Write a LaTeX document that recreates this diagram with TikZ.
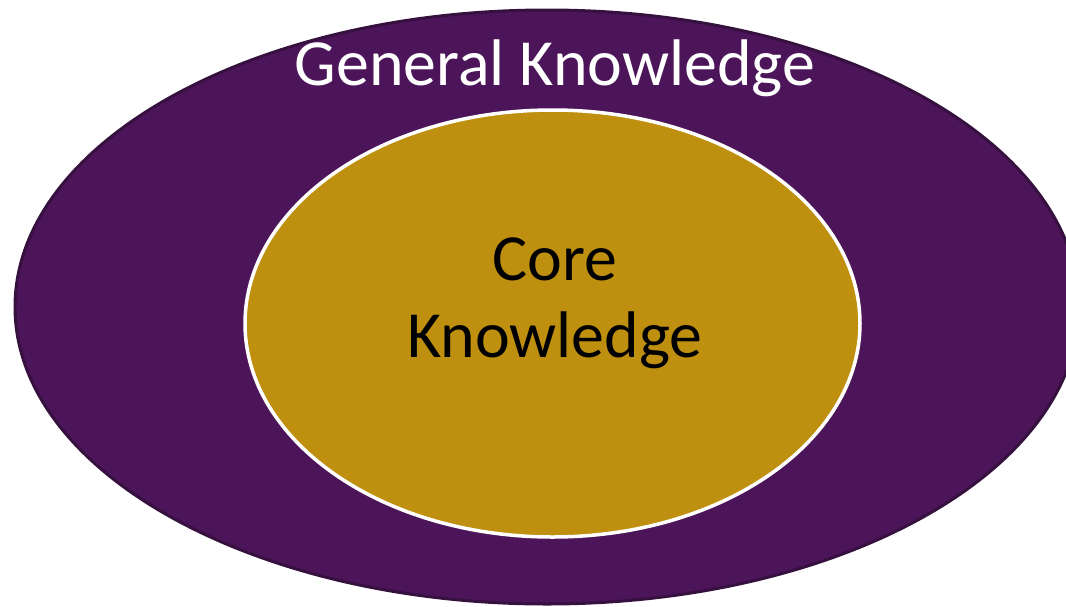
\documentclass[tikz,border=0pt]{standalone}
\usepackage{fontspec}
\setmainfont{Carlito}
\usetikzlibrary{positioning}
\definecolor{plum}{HTML}{4C1559}
\definecolor{plumedge}{HTML}{36103F}
\definecolor{gold}{HTML}{BF900F}
\tikzset{
	outerset/.style={
		fill=plum,
		draw=plumedge,
		line width=0.06cm
	},
	innerset/.style={
		fill=gold,
		draw=white,
		line width=0.07cm
	},
	setlabel/.style={
		inner sep=0pt,
		align=center,
		font=\fontsize{37.5}{44}\selectfont
	}
}

\begin{document}
\begin{tikzpicture}[x=0.02cm, y=-0.02cm]
		\useasboundingbox (0,0) rectangle (1066,606);
		\clip (0,0) rectangle (1066,606);
		\coordinate (G) at (547,307);
		\coordinate (C) at (552.5,323.5);
		\draw[outerset] (G) ellipse [x radius=532, y radius=297];
		\draw[innerset] (C) ellipse [x radius=307.5, y radius=213.5];
		
		\node[setlabel, text=white, anchor=base] (general) at (555,85) {General Knowledge};
		\node[setlabel, text=black] (core) at (555,303) {Core\\Knowledge};
		\end{tikzpicture}
\end{document}
